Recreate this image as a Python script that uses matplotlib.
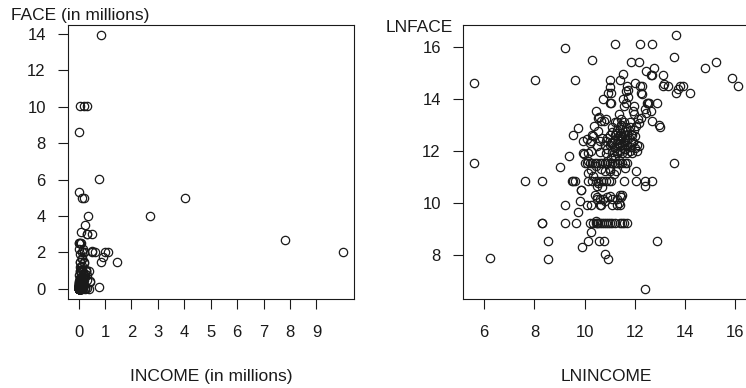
import numpy as np
import matplotlib.pyplot as plt

plt.rcParams['font.family'] = ['Liberation Sans', 'DejaVu Sans']
plt.rcParams['font.size'] = 12

# values (log scale), one line per horizontal band
lnincome = [
    11.19, 12.20, 12.69, 13.64,
    9.22, 10.30, 11.83, 12.17, 13.56, 15.21,
    12.77, 14.81, 11.51, 12.43, 12.66, 12.69, 13.10,
    8.01, 9.62, 11.00, 11.42, 15.87, 5.58, 12.00, 11.00, 11.68, 12.30,
    13.11, 13.32, 13.16, 13.80, 13.92, 16.12, 12.22, 11.71, 11.64, 13.72,
    12.24, 12.30, 13.64, 14.20, 10.91, 11.05, 11.71, 10.73, 11.51, 11.00,
    11.05, 12.48, 12.53, 12.87, 11.64, 12.56, 11.97, 11.58, 12.40, 12.66,
    10.45, 11.91, 12.44, 11.38, 11.97, 10.52, 10.85, 10.65, 10.57, 10.77,
    11.44, 11.30, 11.44, 12.11, 12.18, 12.24, 12.69, 12.95, 12.98, 11.20,
    11.80, 11.55, 12.05, 9.72, 10.38, 10.52, 10.32, 9.52, 11.10, 11.30,
    11.50, 11.70, 11.90, 11.40, 11.60, 11.20, 11.00, 11.80, 11.45, 10.90,
    10.70, 10.11, 10.30, 10.20, 10.50, 10.80, 11.00, 11.10, 11.30, 11.40,
    11.50, 11.60, 11.70, 11.85, 12.10, 12.17, 11.20, 11.55, 10.60, 9.92,
    10.25, 10.85, 11.31, 11.91, 9.93, 9.38, 10.12, 9.99, 10.25, 10.60,
    10.85, 11.10, 11.30, 11.50, 11.70, 11.90, 12.10, 10.90, 11.20, 11.60,
    11.15, 11.35, 11.55, 11.75, 11.25, 11.45, 11.65, 11.85, 11.05, 11.95,
    11.50, 11.30, 11.70, 11.40, 11.60, 11.20, 11.80, 11.10, 12.00, 11.45,
    12.00, 11.40, 11.80, 5.58, 9.00, 10.00, 10.10, 10.20, 10.30, 10.40,
    10.50, 10.60, 10.70, 10.80, 10.90, 11.00, 11.10, 11.20, 11.30, 11.40,
    11.50, 11.60, 11.70, 13.55, 10.15, 10.90, 11.35, 11.05, 10.25, 11.00,
    11.60, 10.45, 12.05, 10.65, 10.80, 11.00, 11.18, 10.12, 10.32, 11.25,
    7.62, 8.30, 9.48, 9.55, 9.62, 10.12, 10.30, 10.45, 10.55, 10.65,
    10.75, 10.85, 10.95, 11.05, 11.58, 12.05, 12.40, 12.69, 12.42, 10.50,
    10.70, 10.55, 9.87, 9.85, 10.40, 10.50, 10.60, 10.75, 10.90, 11.10,
    11.40, 11.50, 11.45, 11.35, 9.80, 10.80, 11.00, 10.50, 11.30, 9.22,
    10.10, 10.25, 10.60, 10.65, 11.10, 11.30, 11.40, 9.75, 8.29, 8.30,
    9.22, 9.67, 10.20, 10.35, 10.45, 10.50, 10.55, 10.62, 10.70, 10.78,
    10.85, 10.92, 11.00, 11.10, 11.20, 11.40, 11.48, 11.55, 11.70, 10.45,
    10.24, 9.88, 10.15, 10.57, 10.77, 8.53, 12.89, 10.83, 10.91, 8.53, 6.23, 12.42,
]
lnface = [
    16.12, 16.12, 16.12, 16.45,
    15.97, 15.49, 15.42, 15.42, 15.61, 15.42,
    15.20, 15.20, 14.95, 15.07, 14.92, 14.92, 14.92,
    14.74, 14.74, 14.74, 14.73, 14.81, 14.60, 14.60, 14.46, 14.51, 14.51,
    14.51, 14.51, 14.55, 14.51, 14.51, 14.51, 14.51, 14.34, 14.30, 14.38,
    14.22, 14.18, 14.22, 14.22, 14.22, 14.22, 14.05, 14.00, 13.98, 13.82,
    13.82, 13.82, 13.85, 13.82, 13.85, 13.82, 13.72, 13.72, 13.62, 13.53,
    13.53, 13.53, 13.44, 13.40, 13.40, 13.27, 13.21, 13.14, 13.31, 13.15,
    13.21, 13.10, 12.98, 13.21, 13.08, 13.27, 13.15, 13.00, 12.90, 13.12,
    13.12, 13.12, 12.95, 12.89, 12.95, 12.76, 12.57, 12.61, 12.90, 12.80,
    12.85, 12.75, 12.60, 12.60, 12.60, 12.60, 12.61, 12.90, 12.70, 12.50,
    12.50, 12.44, 12.61, 12.30, 12.20, 12.21, 12.21, 12.35, 12.30, 12.43,
    12.21, 12.43, 12.21, 12.35, 12.21, 12.20, 12.43, 12.35, 12.38, 12.38,
    12.38, 12.38, 12.40, 12.32, 11.92, 11.80, 11.92, 11.86, 11.97, 11.95,
    11.92, 11.95, 11.92, 11.90, 11.92, 11.92, 11.97, 12.05, 12.10, 12.05,
    12.15, 12.25, 12.05, 12.50, 12.70, 12.45, 12.90, 12.65, 12.30, 12.80,
    12.55, 12.00, 12.45, 12.20, 12.75, 11.80, 12.15, 12.72, 12.55, 13.00,
    12.10, 11.98, 12.00, 11.54, 11.37, 11.51, 11.51, 11.51, 11.51, 11.51,
    11.51, 11.51, 11.51, 11.51, 11.51, 11.51, 11.51, 11.51, 11.51, 11.51,
    11.51, 11.51, 11.51, 11.51, 11.60, 11.60, 11.65, 11.70, 11.25, 11.30,
    11.35, 11.40, 11.22, 11.30, 11.23, 11.20, 11.10, 11.15, 11.02, 11.23,
    10.82, 10.82, 10.82, 10.82, 10.82, 10.82, 10.82, 10.82, 10.82, 10.82,
    10.82, 10.82, 10.82, 10.82, 10.82, 10.82, 10.82, 10.82, 10.65, 10.65,
    10.60, 10.75, 10.47, 10.47, 10.31, 10.20, 10.13, 10.13, 10.20, 10.13,
    10.31, 10.31, 10.20, 10.00, 10.06, 10.06, 10.25, 10.13, 10.13, 9.92,
    9.92, 9.92, 9.92, 9.90, 9.92, 9.92, 9.90, 9.63, 9.22, 9.22,
    9.22, 9.22, 9.22, 9.22, 9.22, 9.22, 9.22, 9.22, 9.22, 9.22,
    9.22, 9.22, 9.22, 9.22, 9.22, 9.22, 9.22, 9.22, 9.22, 9.30,
    8.87, 8.31, 8.52, 8.52, 8.52, 8.52, 8.52, 8.03, 7.83, 7.83, 7.86, 6.68,
]

lnincome = np.array(lnincome)
lnface = np.array(lnface)
# left panel shows the same policies on the original scale, in millions
income = np.exp(lnincome) / 1e6
face = np.exp(lnface) / 1e6

ink = '#1a1a1a'
fig = plt.figure(figsize=(7.46, 3.88), dpi=100)
ax1 = fig.add_axes([68 / 746, 89 / 388, 286 / 746, 274 / 388])
ax2 = fig.add_axes([463 / 746, 89 / 388, 286 / 746, 274 / 388])

for ax, xs, ys in ((ax1, income, face), (ax2, lnincome, lnface)):
    ax.plot(xs, ys, linestyle='none', marker='o', markersize=6, mfc='none',
            mec=ink, mew=0.9)
    ax.margins(0.04)
    ax.tick_params(direction='out', length=7, width=0.8, color=ink,
                   labelcolor=ink, labelsize=12)
    ax.tick_params(axis='x', pad=12)
    ax.tick_params(axis='y', pad=9)
    for s in ax.spines.values():
        s.set_linewidth(0.8)
        s.set_color(ink)

ax1.set_xticks(range(0, 10))
ax1.set_yticks(range(0, 15, 2))
ax2.set_xticks(range(6, 17, 2))
ax2.set_yticks(range(8, 17, 2))

fig.text(11 / 746, 1 - 20 / 388, 'FACE (in millions)', color=ink, fontsize=12.5, va='baseline')
fig.text(386 / 746, 1 - 32 / 388, 'LNFACE', color=ink, fontsize=12.5, va='baseline')
fig.text(211 / 746, 7 / 388, 'INCOME (in millions)', color=ink, fontsize=12.5,
         ha='center', va='baseline')
fig.text(606 / 746, 7 / 388, 'LNINCOME', color=ink, fontsize=12.5,
         ha='center', va='baseline')

fig.savefig('out.png', dpi=100)
